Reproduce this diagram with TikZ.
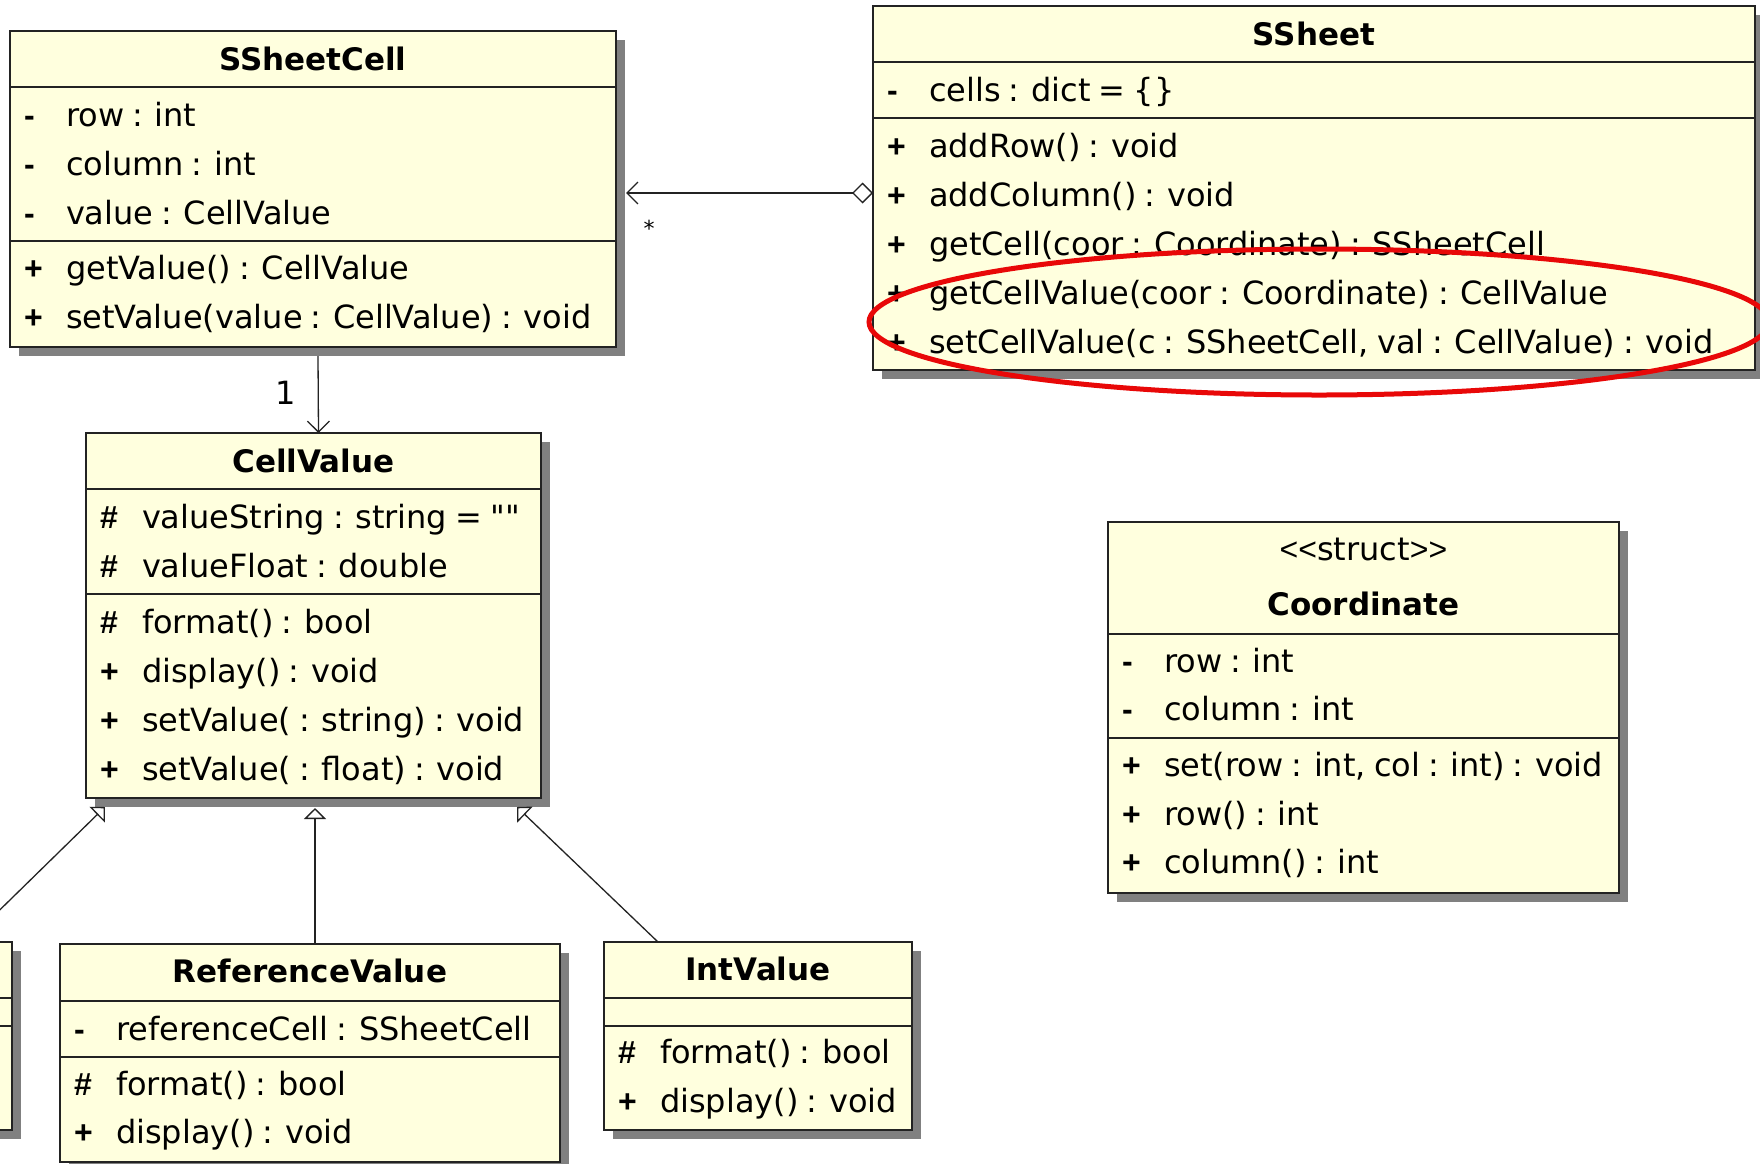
\documentclass[tikz,border=0pt]{standalone}
\usepackage{fontspec}
\newfontfamily\umlfont{DejaVu Sans}[WordSpace=0.8]
\newfontfamily\visfont{Liberation Sans}
\usetikzlibrary{arrows.meta,shadows}
\definecolor{clsfill}{RGB}{255,255,222}
\definecolor{shadowgray}{RGB}{128,128,128}
\definecolor{hlred}{RGB}{232,8,8}
\definecolor{inkline}{RGB}{35,35,35}
\tikzset{
  classbox/.style={draw=inkline, line width=2pt, fill=clsfill, inner sep=0pt, outer sep=0pt,
    drop shadow={shadow xshift=9pt, shadow yshift=-9pt, fill=shadowgray, opacity=1}},
  sepline/.style={draw=inkline, line width=2pt},
  txt/.style={inner sep=0pt, outer sep=0pt, text=black, font=\umlfont\fontsize{32}{38}\selectfont},
  ttl/.style={txt, font=\umlfont\bfseries\fontsize{31}{38}\selectfont},
  vis/.style={inner sep=0pt, outer sep=0pt, text=black, font=\visfont\bfseries\fontsize{32}{38}\selectfont},
  conn/.style={draw=inkline, line width=1.3pt},
  lbl/.style={inner sep=0pt, outer sep=0pt, text=black, font=\umlfont\fontsize{32}{38}\selectfont},
  starlbl/.style={inner sep=0pt, outer sep=0pt, text=black, font=\umlfont\fontsize{22}{26}\selectfont},
  barb/.style={-{Straight Barb[length=11pt,width=22pt]}},
  gen/.style={-{Triangle[length=11pt,width=22pt,fill=white]}},
  agg/.style={{Diamond[length=21pt,width=21pt,fill=white]}-{Straight Barb[length=11pt,width=22pt]}},
  highlight/.style={draw=hlred, line width=5pt}
}
% name, left, top, right, bottom
\newcommand{\clsbox}[5]{\node[classbox, anchor=north west, minimum width={(#4)-(#2)}, minimum height={(#5)-(#3)}] (#1) at (#2,#3) {};}
% name, left, right, y
\newcommand{\sepat}[4]{\draw[sepline] (#2,#4) -- (#3,#4);}
% name, left, baseline, visibility, text
\newcommand{\mem}[5]{%
  \node[vis, anchor=base west] (#1-v) at ({#2+14},#3) {#4};
  \node[txt, anchor=base west] (#1) at ({#2+56},#3) {#5};}
\newcommand{\guil}[1]{{\visfont\fontsize{32}{38}\selectfont #1}}

\begin{document}
\begin{tikzpicture}[x=1pt, y=-1pt]
\useasboundingbox (0,0) rectangle (1760,1163);
\fill[white] (0,0) rectangle (1760,1163);
\clip (0,0) rectangle (1760,1163);

% ---------- SSheetCell ----------
\clsbox{ssc}{10}{31}{616}{347}
\sepat{ssc}{10}{616}{87}
\sepat{ssc}{10}{616}{241}
\node[ttl, anchor=base] (ssc-t) at (313,70) {SSheetCell};
\mem{ssc-a1}{10}{126}{-}{row : int}
\mem{ssc-a2}{10}{175}{-}{column : int}
\mem{ssc-a3}{10}{224}{-}{value : CellValue}
\mem{ssc-o1}{10}{279}{+}{getValue() : CellValue}
\mem{ssc-o2}{10}{328}{+}{setValue(value : CellValue) : void}

% ---------- SSheet ----------
\clsbox{ssh}{873}{6}{1755}{370}
\sepat{ssh}{873}{1755}{62}
\sepat{ssh}{873}{1755}{118}
\node[ttl, anchor=base] (ssh-t) at (1314,45) {SSheet};
\mem{ssh-a1}{873}{101}{-}{cells : dict = \{\}}
\mem{ssh-o1}{873}{157}{+}{addRow() : void}
\mem{ssh-o2}{873}{206}{+}{addColumn() : void}
\mem{ssh-o3}{873}{255}{+}{getCell(coor : Coordinate) : SSheetCell}
\mem{ssh-o4}{873}{304}{+}{getCellValue(coor : Coordinate) : CellValue}
\mem{ssh-o5}{873}{353}{+}{setCellValue(c : SSheetCell, val : CellValue) : void}

% ---------- CellValue ----------
\clsbox{cv}{86}{433}{541}{798}
\sepat{cv}{86}{541}{489}
\sepat{cv}{86}{541}{594}
\node[ttl, anchor=base] (cv-t) at (313.5,472) {CellValue};
\mem{cv-a1}{86}{528}{\#}{valueString : string = ""}
\mem{cv-a2}{86}{577}{\#}{valueFloat : double}
\mem{cv-o1}{86}{633}{\#}{format() : bool}
\mem{cv-o2}{86}{682}{+}{display() : void}
\mem{cv-o3}{86}{731}{+}{setValue( : string) : void}
\mem{cv-o4}{86}{780}{+}{setValue( : float) : void}

% ---------- Coordinate ----------
\clsbox{crd}{1108}{522}{1619}{893}
\sepat{crd}{1108}{1619}{634}
\sepat{crd}{1108}{1619}{738}
\node[txt, anchor=base] (crd-s) at (1363.5,560) {\guil{<<}struct\guil{>>}};
\node[ttl, anchor=base] (crd-t) at (1363.5,615) {Coordinate};
\mem{crd-a1}{1108}{672}{-}{row : int}
\mem{crd-a2}{1108}{720}{-}{column : int}
\mem{crd-o1}{1108}{776}{+}{set(row : int, col : int) : void}
\mem{crd-o2}{1108}{825}{+}{row() : int}
\mem{crd-o3}{1108}{873}{+}{column() : int}

% ---------- ReferenceValue ----------
\clsbox{rv}{60}{944}{560}{1162}
\sepat{rv}{60}{560}{1001}
\sepat{rv}{60}{560}{1057}
\node[ttl, anchor=base] (rv-t) at (310,982) {ReferenceValue};
\mem{rv-a1}{60}{1040}{-}{referenceCell : SSheetCell}
\mem{rv-o1}{60}{1095}{\#}{format() : bool}
\mem{rv-o2}{60}{1143}{+}{display() : void}

% ---------- IntValue ----------
\clsbox{iv}{604}{942}{912}{1130}
\sepat{iv}{604}{912}{998}
\sepat{iv}{604}{912}{1026}
\node[ttl, anchor=base] (iv-t) at (758,980) {IntValue};
\mem{iv-o1}{604}{1063}{\#}{format() : bool}
\mem{iv-o2}{604}{1112}{+}{display() : void}

% ---------- partly visible class at the left ----------
\clsbox{pv}{-78}{942}{12}{1130}
\sepat{pv}{-78}{12}{998}
\sepat{pv}{-78}{12}{1026}

% ---------- connectors ----------
\draw[conn, agg] ([yshift=-187pt]ssh.north west) -- ([xshift=10pt,yshift=-162pt]ssc.north east);
\node[starlbl, anchor=base] (mstar) at (649,236) {*};
\draw[conn, barb] ([xshift=5pt,yshift=-9pt]ssc.south) -- ([xshift=5pt]cv.north);
\node[lbl, anchor=base] (mone) at (286,404) {1};
\draw[conn, gen] (pv.north) -- ([xshift=19pt,yshift=-9pt]cv.south west);
\draw[conn, gen] ([xshift=5pt]rv.north) -- ([xshift=229pt,yshift=-10pt]cv.south west);
\draw[conn, gen] ([xshift=-100pt]iv.north) -- ([xshift=431pt,yshift=-9pt]cv.south west);

% ---------- red highlight ----------
\draw[highlight] (1319,322) ellipse [x radius=450, y radius=73];
\end{tikzpicture}
\end{document}
